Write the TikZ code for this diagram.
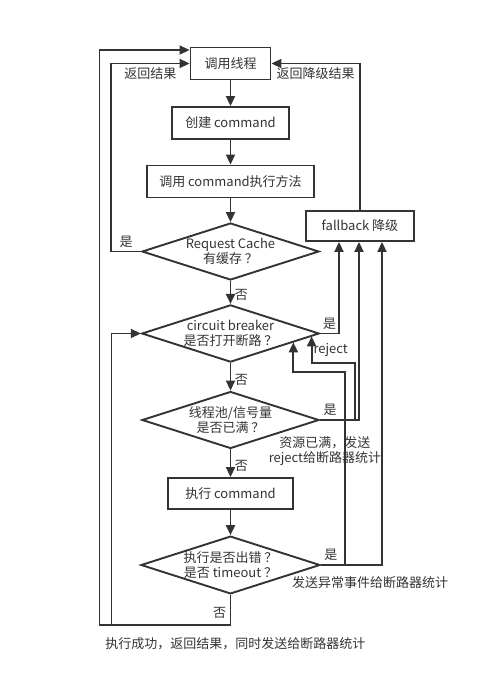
\documentclass[tikz,border=0pt]{standalone}
\usepackage{fontspec}
\setmainfont{Noto Sans CJK SC}
\usepackage{tikz}
\usetikzlibrary{positioning,shapes.geometric,arrows.meta}

\definecolor{ink}{HTML}{333333}

\begin{document}
\begin{tikzpicture}[node distance=60pt,on grid,auto,
    line width=1.9pt,draw=ink,text=ink,
    font=\fontsize{13}{15.5}\selectfont,
    box/.style={rectangle,draw,minimum height=32pt,inner sep=2pt},
    test/.style={diamond,draw,aspect=3.1,minimum width=177pt,minimum height=57pt,inner sep=0pt,align=center},
    arr/.style={draw,line width=1.9pt,-{Triangle[length=10pt,width=9pt]}}]
   \useasboundingbox (-230.5pt,63.5pt) rectangle (250.5pt,-629.5pt);
   \node[box,minimum width=80pt] (caller) {调用线程};
   \node[box,minimum width=117pt] (create) [below=59.5pt of caller] {创建 command};
   \node[box,minimum width=167pt] (invoke) [below=58.5pt of create] {调用 command执行方法};
   \node[test] (cache) [below=70pt of invoke] {Request Cache\\有缓存 ？};
   \node[test] (cb) [below=82pt of cache] {circuit breaker\\是否打开断路 ？};
   \node[test] (pool) [below=86.5pt of cb] {线程池/信号量\\是否已满 ？};
   \node[box,minimum width=125pt,minimum height=31pt] (exec) [below=73.5pt of pool] {执行 command};
   \node[test] (error) [below=71.5pt of exec] {执行是否出错 ？\\是否 timeout ？};
   \node[box,minimum width=108pt,minimum height=30pt] (fallback) [above right=25.5pt and 129.5pt of cache] {fallback 降级};

   % corners of the loops
   \coordinate (loopbot) at ([yshift=-30pt]error.south);
   \coordinate (outer) at ([xshift=-131pt]loopbot);
   \coordinate (inner) at ([xshift=-119pt]loopbot);
   \coordinate (rejfork) at ([xshift=35pt]pool.east);
   \coordinate (errfork) at ([xshift=24pt]error.east);

   \node[align=center] (fullnote) at ([xshift=5pt,yshift=-31pt]pool.east) {资源已满，发送\\reject给断路器统计};
   \node (errnote) at ([xshift=49pt,yshift=-18pt]error.east) {发送异常事件给断路器统计};
   \node (oknote) at ([xshift=5pt,yshift=-19pt]loopbot) {执行成功，返回结果，同时发送给断路器统计};

   % main column
   \draw[arr] (caller) -- (create);
   \draw[arr] (create) -- (invoke);
   \draw[arr] (invoke) -- (cache);
   \draw[arr] (cache) -- node[pos=0.6] {否} (cb);
   \draw[arr] (cb) -- node[pos=0.6] {否} (pool);
   \draw[arr] (pool) -- node[pos=0.6] {否} (exec);
   \draw[arr] (exec) -- (error);

   % back to the caller
   \draw[arr] (cache.west) -- node[swap] {是} ++(-30pt,0) |- node[pos=0.75,swap] {返回结果} (caller.west);
   \draw[arr] (error.south) -- node[pos=0.6,swap] {否} (loopbot) -- (outer) |- ([yshift=13.5pt]caller.west);
   \draw[arr] (inner) |- (cb.west);
   \draw[arr] (fallback.north) |- node[pos=0.75] {返回降级结果} (caller.east);

   % into fallback
   \draw[arr] (cb.east) -| node[pos=0.25] {是} ([xshift=-21pt]fallback.south);
   \draw[arr] (pool.east) -| node[pos=0.13] {是} ([xshift=-1pt]fallback.south);
   \draw[arr] (error.east) -| node[pos=0.08] {是} ([xshift=22pt]fallback.south);

   % statistics back to the breaker
   \draw[arr] (rejfork) -- ++(0,57pt) -| node[pos=0.75,right,inner sep=1pt] {reject} (cb.-2);
   \draw[arr] (errfork) -- ++(0,193pt) -| (cb.-8);
\end{tikzpicture}
\end{document}
